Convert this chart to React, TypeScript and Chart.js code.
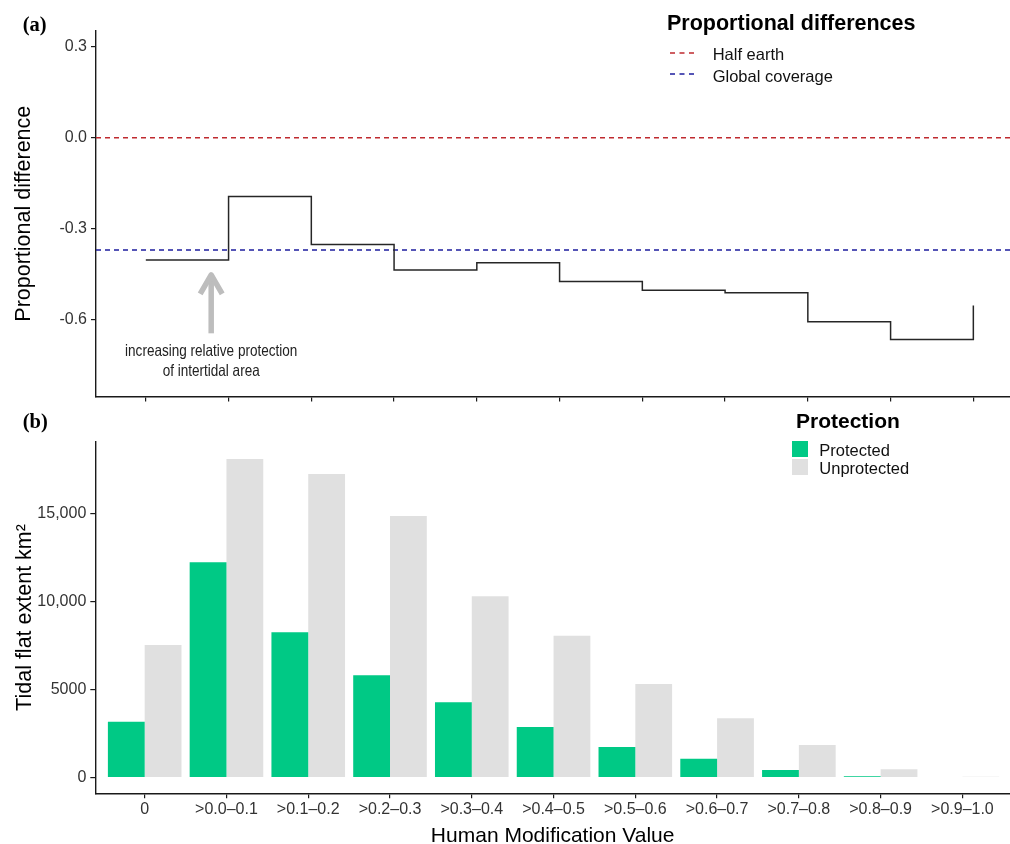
import React, { useEffect, useRef } from "react";
import { Chart, registerables } from "chart.js";

Chart.register(...registerables);

// ---------------- Data ----------------
const CATEGORIES = [
  "0",
  ">0.0–0.1",
  ">0.1–0.2",
  ">0.2–0.3",
  ">0.3–0.4",
  ">0.4–0.5",
  ">0.5–0.6",
  ">0.6–0.7",
  ">0.7–0.8",
  ">0.8–0.9",
  ">0.9–1.0",
];

// Panel (a): proportional difference per category (step line)
const PROPORTIONAL_DIFF = [-0.403, -0.194, -0.352, -0.436, -0.412, -0.474, -0.503, -0.511, -0.607, -0.665, -0.553];
const HALF_EARTH = 0.0;
const GLOBAL_COVERAGE = -0.37;
const Y_TICKS_A = [-0.6, -0.3, 0, 0.3];
const Y_TICK_LABELS_A = ["-0.6", "-0.3", "0.0", "0.3"];
const Y_RANGE_A = [-0.853, 0.352];
const X_RANGE_A = [-0.602, 10.443];

// Annotation in panel (a)
const ARROW_X = 0.79;
const ARROW_FROM = -0.645;
const ARROW_TO = -0.452;
const ANNOTATION_LINES = ["increasing relative protection", "of intertidal area"];
const ANNOTATION_Y = [-0.72, -0.786];

// Panel (b): tidal flat extent km² by protection status
const PROTECTED = [3180, 12220, 8250, 5810, 4280, 2880, 1740, 1080, 440, 80, 0];
const UNPROTECTED = [7530, 18080, 17230, 14850, 10300, 8050, 5320, 3370, 1855, 476, 60];
const Y_TICKS_B = [0, 5000, 10000, 15000];
const Y_TICK_LABELS_B = ["0", "5000", "10,000", "15,000"];
const Y_RANGE_B = [-885, 19062];
const X_RANGE_B = [-0.604, 10.582];

// ---------------- Styles ----------------
const FONT = "'Liberation Sans', Arial, Helvetica, sans-serif";
const SERIF = "'Liberation Serif', 'Times New Roman', serif";
const AXIS_COLOR = "#1a1a1a";
const TICK_TEXT = "#333333";
const RED = "#BF2A2F";
const BLUE = "#1E1E9E";
const GREEN = "#00C985";
const GREY = "#E0E0E0";
const LINE_COLOR = "#262626";
const ARROW_COLOR = "#BDBDBD";

Chart.defaults.font.family = FONT;
Chart.defaults.color = TICK_TEXT;

const refLinesPlugin = {
  id: "refLines",
  beforeDatasetsDraw(chart: any) {
    const { ctx, chartArea, scales } = chart;
    ctx.save();
    ctx.beginPath();
    ctx.rect(chartArea.left, chartArea.top, chartArea.right - chartArea.left, chartArea.bottom - chartArea.top);
    ctx.clip();
    ctx.setLineDash([5, 4]);
    ctx.lineWidth = 1.5;
    const lines: [number, string][] = [
      [HALF_EARTH, RED],
      [GLOBAL_COVERAGE, BLUE],
    ];
    lines.forEach(([v, c]) => {
      const y = scales.y.getPixelForValue(v);
      ctx.strokeStyle = c;
      ctx.beginPath();
      ctx.moveTo(chartArea.left, y);
      ctx.lineTo(chartArea.right, y);
      ctx.stroke();
    });
    ctx.restore();
  },
  afterDatasetsDraw(chart: any) {
    const { ctx, scales } = chart;
    const x = scales.x.getPixelForValue(ARROW_X);
    const yTail = scales.y.getPixelForValue(ARROW_FROM);
    const yTip = scales.y.getPixelForValue(ARROW_TO);
    ctx.save();
    ctx.strokeStyle = ARROW_COLOR;
    ctx.lineWidth = 5.5;
    ctx.lineCap = "butt";
    ctx.lineJoin = "round";
    ctx.beginPath();
    ctx.moveTo(x, yTail);
    ctx.lineTo(x, yTip + 2);
    ctx.stroke();
    const len = 22;
    const ang = Math.PI / 6;
    ctx.beginPath();
    ctx.moveTo(x - len * Math.sin(ang), yTip + len * Math.cos(ang));
    ctx.lineTo(x, yTip);
    ctx.lineTo(x + len * Math.sin(ang), yTip + len * Math.cos(ang));
    ctx.stroke();

    ctx.fillStyle = "#222";
    ctx.font = `16.5px ${FONT}`;
    ctx.textAlign = "center";
    ctx.textBaseline = "alphabetic";
    ANNOTATION_LINES.forEach((t, i) => {
      const y = scales.y.getPixelForValue(ANNOTATION_Y[i]);
      ctx.save();
      ctx.translate(x, y);
      ctx.scale(0.82, 1);
      ctx.fillText(t, 0, 0);
      ctx.restore();
    });
    ctx.restore();
  },
};

const catTicks = (s: any) => {
  s.ticks = CATEGORIES.map((_, i) => ({ value: i }));
};

export default function App() {
  const refA = useRef<HTMLCanvasElement | null>(null);
  const refB = useRef<HTMLCanvasElement | null>(null);

  useEffect(() => {
    if (!refA.current || !refB.current) return;

    const chartA = new Chart(refA.current, {
      type: "line",
      data: {
        datasets: [
          {
            label: "Proportional difference",
            data: CATEGORIES.map((_, i) => ({ x: i, y: PROPORTIONAL_DIFF[i] })),
            stepped: "before",
            borderColor: LINE_COLOR,
            borderWidth: 1.5,
            pointRadius: 0,
            fill: false,
          },
        ],
      },
      options: {
        animation: false,
        responsive: false,
        maintainAspectRatio: false,
        layout: { padding: { top: 31, left: 0, right: 0, bottom: 0 } },
        plugins: { legend: { display: false }, tooltip: { enabled: false } },
        scales: {
          x: {
            type: "linear",
            min: X_RANGE_A[0],
            max: X_RANGE_A[1],
            afterBuildTicks: catTicks,
            ticks: { display: false },
            grid: { drawOnChartArea: false, drawTicks: true, tickLength: 5, color: AXIS_COLOR, lineWidth: 1.2 },
            border: { display: true, color: AXIS_COLOR, width: 1.4 },
            afterFit: (s: any) => {
              s.height = 13;
            },
          },
          y: {
            type: "linear",
            min: Y_RANGE_A[0],
            max: Y_RANGE_A[1],
            afterBuildTicks: (s: any) => {
              s.ticks = Y_TICKS_A.map((v) => ({ value: v }));
            },
            ticks: {
              font: { size: 16 },
              color: TICK_TEXT,
              padding: 4,
              callback: (v: any) => Y_TICK_LABELS_A[Y_TICKS_A.indexOf(Number(v))],
            },
            grid: { drawOnChartArea: false, drawTicks: true, tickLength: 5, color: AXIS_COLOR, lineWidth: 1.2 },
            border: { display: true, color: AXIS_COLOR, width: 1.4 },
            title: {
              display: true,
              text: "Proportional difference",
              color: "#000",
              font: { size: 21.5 },
              padding: { top: 11, bottom: 0 },
            },
            afterFit: (s: any) => {
              s.width = 96;
            },
          },
        },
      },
      plugins: [refLinesPlugin],
    } as any);

    const chartB = new Chart(refB.current, {
      type: "bar",
      data: {
        datasets: [
          {
            label: "Protected",
            data: CATEGORIES.map((_, i) => ({ x: i, y: PROTECTED[i] })),
            backgroundColor: GREEN,
            borderWidth: 0,
            categoryPercentage: 0.9,
            barPercentage: 1.0,
          },
          {
            label: "Unprotected",
            data: CATEGORIES.map((_, i) => ({ x: i, y: UNPROTECTED[i] })),
            backgroundColor: GREY,
            borderWidth: 0,
            categoryPercentage: 0.9,
            barPercentage: 1.0,
          },
        ],
      },
      options: {
        animation: false,
        responsive: false,
        maintainAspectRatio: false,
        layout: { padding: { top: 31.7, left: 0, right: 0, bottom: 0 } },
        plugins: { legend: { display: false }, tooltip: { enabled: false } },
        scales: {
          x: {
            type: "linear",
            offset: false,
            min: X_RANGE_B[0],
            max: X_RANGE_B[1],
            afterBuildTicks: catTicks,
            ticks: {
              font: { size: 16 },
              color: TICK_TEXT,
              padding: 2,
              maxRotation: 0,
              autoSkip: false,
              callback: (v: any) => CATEGORIES[Number(v)],
            },
            grid: { offset: false, drawOnChartArea: false, drawTicks: true, tickLength: 5, color: AXIS_COLOR, lineWidth: 1.2 },
            border: { display: true, color: AXIS_COLOR, width: 1.4 },
            title: {
              display: true,
              text: "Human Modification Value",
              color: "#000",
              font: { size: 21, lineHeight: 1 },
              padding: { top: 0, bottom: -2.5 },
            },
            afterFit: (s: any) => {
              s.height = 50.7;
            },
          },
          y: {
            type: "linear",
            min: Y_RANGE_B[0],
            max: Y_RANGE_B[1],
            afterBuildTicks: (s: any) => {
              s.ticks = Y_TICKS_B.map((v) => ({ value: v }));
            },
            ticks: {
              font: { size: 16 },
              color: TICK_TEXT,
              padding: 4,
              callback: (v: any) => Y_TICK_LABELS_B[Y_TICKS_B.indexOf(Number(v))],
            },
            grid: { drawOnChartArea: false, drawTicks: true, tickLength: 5, color: AXIS_COLOR, lineWidth: 1.2 },
            border: { display: true, color: AXIS_COLOR, width: 1.4 },
            title: {
              display: true,
              text: "Tidal flat extent km²",
              color: "#000",
              font: { size: 21.5 },
              padding: { top: 12.5, bottom: 0 },
            },
            afterFit: (s: any) => {
              s.width = 95.3;
            },
          },
        },
      },
    } as any);

    return () => {
      chartA.destroy();
      chartB.destroy();
    };
  }, []);

  const text = (extra: React.CSSProperties): React.CSSProperties => ({
    position: "absolute",
    whiteSpace: "nowrap",
    fontFamily: FONT,
    color: "#111",
    margin: 0,
    ...extra,
  });

  return (
    <div
      style={{
        position: "absolute",
        left: 0,
        top: 0,
        width: 1010,
        height: 844,
        background: "#fff",
        overflow: "hidden",
      }}
    >
      <canvas ref={refA} width={1010} height={410} style={{ position: "absolute", left: 0, top: 0, display: "block" }} />
      <canvas ref={refB} width={1010} height={434} style={{ position: "absolute", left: 0, top: 410, display: "block" }} />

      {/* Panel labels */}
      <div style={text({ left: 22.7, top: 14.1, fontFamily: SERIF, fontWeight: "bold", fontSize: 20.5, lineHeight: "20.5px", color: "#000" })}>(a)</div>
      <div style={text({ left: 22.7, top: 410.5, fontFamily: SERIF, fontWeight: "bold", fontSize: 20.5, lineHeight: "20.5px", color: "#000" })}>(b)</div>

      {/* Legend (a) */}
      <div style={text({ left: 667, top: 12.5, fontWeight: "bold", fontSize: 21.5, lineHeight: "21.5px", color: "#000" })}>
        Proportional differences
      </div>
      <svg style={{ position: "absolute", left: 669, top: 49 }} width={28} height={8}>
        <line x1={1} y1={4} x2={27} y2={4} stroke={RED} strokeWidth={1.6} strokeDasharray="5 4.5" />
      </svg>
      <svg style={{ position: "absolute", left: 669, top: 69.5 }} width={28} height={8}>
        <line x1={1} y1={4} x2={27} y2={4} stroke={BLUE} strokeWidth={1.6} strokeDasharray="5 4.5" />
      </svg>
      <div style={text({ left: 712.7, top: 46, fontSize: 16.5, lineHeight: "16.5px" })}>Half earth</div>
      <div style={text({ left: 712.7, top: 67.7, fontSize: 16.5, lineHeight: "16.5px" })}>Global coverage</div>

      {/* Legend (b) */}
      <div style={text({ left: 796, top: 409.5, fontWeight: "bold", fontSize: 21, lineHeight: "21px", color: "#000" })}>
        Protection
      </div>
      <div style={{ position: "absolute", left: 792, top: 441, width: 16, height: 16, background: GREEN }} />
      <div style={{ position: "absolute", left: 792, top: 458.5, width: 16, height: 16, background: GREY }} />
      <div style={text({ left: 819.3, top: 442, fontSize: 16.5, lineHeight: "16.5px" })}>Protected</div>
      <div style={text({ left: 819.3, top: 460, fontSize: 16.5, lineHeight: "16.5px" })}>Unprotected</div>
    </div>
  );
}
